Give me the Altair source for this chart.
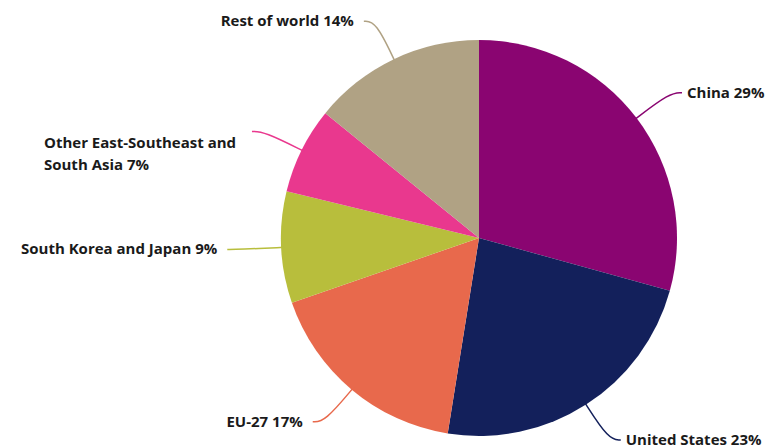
import math
import altair as alt
import pandas as pd

regions = ["China", "United States", "EU-27", "South Korea and Japan",
           "Other East-Southeast and South Asia", "Rest of world"]
shares = [29, 23, 17, 9, 7, 14]
colors = ["#8A0571", "#13205B", "#E8694C", "#B8BE3C", "#E9388E", "#B0A284"]
labels = [["China 29%"], ["United States 23%"], ["EU-27 17%"],
          ["South Korea and Japan 9%"], ["Other East-Southeast and", "South Asia 7%"],
          ["Rest of world 14%"]]

W, H = 758, 440
CX, CY, R = 471, 230, 198
R_IN, R_OUT, HOOK = 195, 240, 12

total = sum(shares)
rows, lines = [], []
cum = 0
for i, (reg, v, lab) in enumerate(zip(regions, shares, labels)):
    a = 2 * math.pi * (cum + v / 2) / total
    cum += v
    s = 1 if math.sin(a) > 0 else -1
    gap = 5 if s > 0 else 10
    p0 = (CX + R_IN * math.sin(a), CY - R_IN * math.cos(a))
    p1 = (CX + R_OUT * math.sin(a), CY - R_OUT * math.cos(a))
    p2 = (p1[0] + s * HOOK, p1[1])
    for k, p in enumerate([p0, p1, p2]):
        lines.append({"region": reg, "k": k, "px": p[0], "py": p[1]})
    side = "right" if s > 0 else ("multi" if len(lab) > 1 else "left")
    rows.append({"idx": i, "region": reg, "share": v,
                 "label": lab if len(lab) > 1 else lab[0],
                 "lx": p2[0] + s * gap, "ly": p2[1], "side": side})

df = pd.DataFrame(rows)
ldf = pd.DataFrame(lines)

color = alt.Color("region:N", scale=alt.Scale(domain=regions, range=colors), legend=None)

pie = alt.Chart(df).mark_arc(radius=R).encode(
    theta=alt.Theta("share:Q", stack=True),
    color=color,
    order=alt.Order("idx:Q"),
    x=alt.value(CX),
    y=alt.value(CY),
)

leaders = alt.Chart(ldf).mark_line(strokeWidth=1.5, interpolate="basis").encode(
    x=alt.X("px:Q", scale=None, axis=None),
    y=alt.Y("py:Q", scale=None, axis=None),
    color=color,
    detail="region:N",
    order="k:Q",
)

txt_base = alt.Chart(df).encode(
    x=alt.X("lx:Q", scale=None, axis=None),
    y=alt.Y("ly:Q", scale=None, axis=None),
    text="label",
)
font = dict(font="Open Sans", fontSize=15, fontWeight="bold", color="#1a1a1a", baseline="middle")
t_right = txt_base.transform_filter("datum.side == 'right'").mark_text(align="left", **font)
t_left = txt_base.transform_filter("datum.side == 'left'").mark_text(align="right", **font)
t_multi = txt_base.transform_filter("datum.side == 'multi'").mark_text(
    align="left", dx=-198, dy=12, lineHeight=22, **font)

chart = alt.layer(pie, leaders, t_right, t_left, t_multi).properties(
    width=W, height=H, padding=0,
    autosize=alt.AutoSizeParams(type="none"),
    background="white",
).configure_view(stroke=None)

chart.save("out.html", embed_options={"renderer": "svg", "actions": False})
